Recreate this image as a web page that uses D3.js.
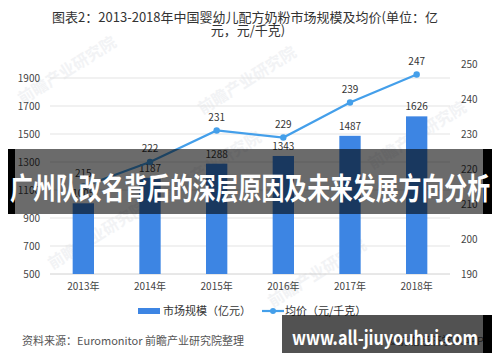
<!DOCTYPE html>
<html lang="zh">
<head>
<meta charset="UTF-8">
<script src="https://cdnjs.cloudflare.com/ajax/libs/d3/7.8.5/d3.min.js"></script>
<style>
  body { margin: 0; background: #fff; }
  text { font-family: "Noto Sans CJK SC", "Noto Sans", sans-serif; }
</style>
</head>
<body>
<div id="chart"></div>
<script>
// data
let years = ["2013年", "2014年", "2015年", "2016年", "2017年", "2018年"];
let marketSize = [1005, 1187, 1288, 1343, 1487, 1626];   // 亿元
let avgPrice = [215, 222, 231, 229, 239, 247];          // 元/千克
let leftTicks = [500, 700, 900, 1100, 1300, 1500, 1700, 1900];
let rightTicks = [190, 200, 210, 220, 230, 240, 250];

let width = 500, height = 362;
let svg = d3.select("#chart").append("svg")
  .attr("width", width).attr("height", height);

// faint watermarks behind the chart
let marks = [[70, 75], [250, 85], [215, 170], [420, 140], [100, 240], [320, 278]];
svg.selectAll(".wm").data(marks).enter().append("text")
  .attr("transform", d => `translate(${d[0]},${d[1]}) rotate(-32)`)
  .attr("text-anchor", "middle")
  .attr("font-size", 16).attr("font-weight", "bold")
  .attr("fill", "#f2f3f5")
  .text("前瞻产业研究院");

// title
svg.append("text").attr("x", 245).attr("y", 22).attr("text-anchor", "middle")
  .attr("font-size", 13).attr("fill", "#333")
  .text("图表2：2013-2018年中国婴幼儿配方奶粉市场规模及均价(单位：亿");
svg.append("text").attr("x", 248).attr("y", 35).attr("text-anchor", "middle")
  .attr("font-size", 13).attr("fill", "#333")
  .text("元，元/千克)");

let x = d3.scaleBand().domain(years).range([50, 450])
  .paddingInner(0.68).paddingOuter(0.34);
let yL = d3.scaleLinear().domain([500, 2000]).range([274, 64]);
let yR = d3.scaleLinear().domain([190, 250]).range([274, 64]);

// gridlines
svg.selectAll(".grid").data(leftTicks).enter().append("line")
  .attr("x1", 50).attr("x2", 450)
  .attr("y1", d => yL(d)).attr("y2", d => yL(d))
  .attr("stroke", d => d == 500 ? "#d0d0d0" : "#e3e3e3").attr("stroke-width", 1);

// axes
let left = svg.append("g").attr("transform", "translate(40,0)")
  .call(d3.axisLeft(yL).tickValues(leftTicks).tickFormat(d3.format("d")).tickSize(0).tickPadding(0));
let right = svg.append("g").attr("transform", "translate(461,0)")
  .call(d3.axisRight(yR).tickValues(rightTicks).tickFormat(d3.format("d")).tickSize(0).tickPadding(0));
let bottom = svg.append("g").attr("transform", "translate(0,274)")
  .call(d3.axisBottom(x).tickSize(0).tickPadding(9));
[left, right, bottom].forEach(g => {
  g.select(".domain").remove();
  g.selectAll("text").attr("font-size", 10).attr("fill", "#444")
    .attr("font-family", "'Noto Sans CJK SC', sans-serif");
});

// bars
svg.selectAll(".bar").data(marketSize).enter().append("rect")
  .attr("x", (d, i) => x(years[i]))
  .attr("y", d => yL(d))
  .attr("width", x.bandwidth())
  .attr("height", d => yL(500) - yL(d))
  .attr("fill", "#3d85e3");

svg.selectAll(".barlbl").data(marketSize).enter().append("text")
  .attr("x", (d, i) => x(years[i]) + x.bandwidth() / 2)
  .attr("y", d => yL(d) - 6)
  .attr("text-anchor", "middle").attr("font-size", 10).attr("fill", "#333")
  .text(d => d);

// line
let line = d3.line()
  .x((d, i) => x(years[i]) + x.bandwidth() / 2)
  .y(d => yR(d));
svg.append("path").datum(avgPrice)
  .attr("d", line).attr("fill", "none")
  .attr("stroke", "#449fea").attr("stroke-width", 2.2);
svg.selectAll(".dot").data(avgPrice).enter().append("circle")
  .attr("cx", (d, i) => x(years[i]) + x.bandwidth() / 2)
  .attr("cy", d => yR(d)).attr("r", 3.2).attr("fill", "#449fea");
svg.selectAll(".linelbl").data(avgPrice).enter().append("text")
  .attr("x", (d, i) => x(years[i]) + x.bandwidth() / 2)
  .attr("y", d => yR(d) - 10)
  .attr("text-anchor", "middle").attr("font-size", 10).attr("fill", "#333")
  .text(d => d);

// legend
svg.append("rect").attr("x", 138).attr("y", 308).attr("width", 22).attr("height", 6)
  .attr("fill", "#3d85e3");
svg.append("text").attr("x", 163).attr("y", 315).attr("font-size", 11).attr("fill", "#333")
  .text("市场规模（亿元）");
svg.append("line").attr("x1", 262).attr("x2", 284).attr("y1", 311).attr("y2", 311)
  .attr("stroke", "#449fea").attr("stroke-width", 2.2);
svg.append("circle").attr("cx", 273).attr("cy", 311).attr("r", 3).attr("fill", "#449fea");
svg.append("text").attr("x", 285).attr("y", 315).attr("font-size", 11).attr("fill", "#333")
  .text("均价（元/千克）");

// source
svg.append("text").attr("x", 22).attr("y", 345).attr("font-size", 11).attr("fill", "#555")
  .text("资料来源：Euromonitor 前瞻产业研究院整理");
svg.append("text").attr("x", 484).attr("y", 345).attr("text-anchor", "end")
  .attr("font-size", 11).attr("fill", "#555")
  .text("©前瞻经济学人APP");

// overlay banner
svg.append("rect").attr("x", 8).attr("y", 149).attr("width", 484).attr("height", 65)
  .attr("fill", "#000").attr("opacity", 0.58);
svg.append("rect").attr("x", 8).attr("y", 149).attr("width", 7).attr("height", 65).attr("fill", "#000");
svg.append("rect").attr("x", 483).attr("y", 149).attr("width", 9).attr("height", 65).attr("fill", "#000");
svg.append("text")
  .attr("transform", "translate(250,199) scale(1,1.3)")
  .attr("text-anchor", "middle").attr("font-size", 23).attr("font-weight", "bold")
  .attr("fill", "#fff")
  .attr("textLength", 480).attr("lengthAdjust", "spacingAndGlyphs")
  .text("广州队改名背后的深层原因及未来发展方向分析");

// site box
svg.append("rect").attr("x", 282).attr("y", 315).attr("width", 210).attr("height", 38)
  .attr("fill", "#000").attr("opacity", 0.68);
svg.append("rect").attr("x", 483).attr("y", 315).attr("width", 9).attr("height", 38).attr("fill", "#000");
svg.append("text").attr("x", 385).attr("y", 345).attr("text-anchor", "middle")
  .attr("font-family", "'DejaVu Sans', sans-serif")
  .attr("font-size", 19).attr("font-weight", "bold").attr("fill", "#fff")
  .attr("textLength", 186).attr("lengthAdjust", "spacingAndGlyphs")
  .text("www.all-jiuyouhui.com");
</script>
</body>
</html>
